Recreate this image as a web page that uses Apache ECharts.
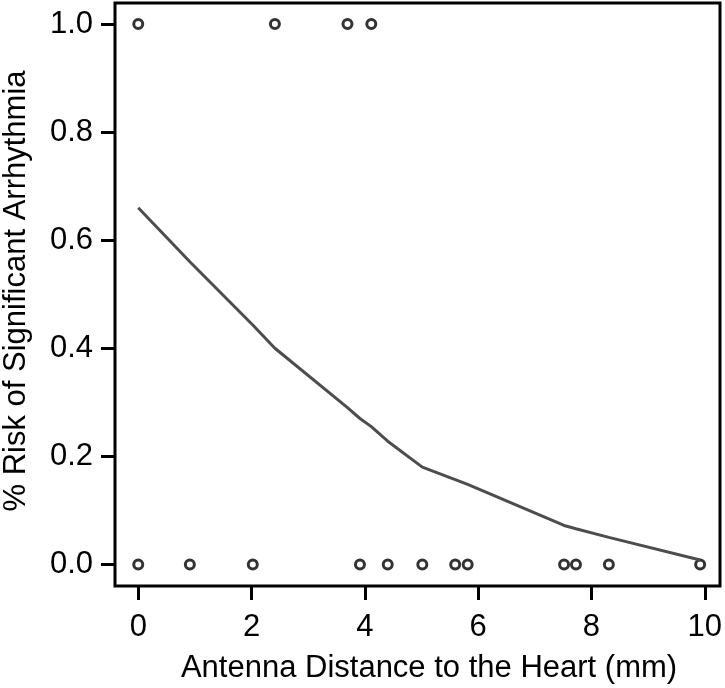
<!DOCTYPE html>
<html>
<head>
<meta charset="utf-8">
<script src="https://cdn.jsdelivr.net/npm/echarts@6/dist/echarts.min.js"></script>
<style>html,body{margin:0;padding:0;background:#fff}#c{width:725px;height:688px}</style>
</head>
<body>
<div id="c"></div>
<script>
var xTickMin = 0, xTickMax = 10, xTickStep = 2;
var yTickMin = 0, yTickMax = 1, yTickStep = 0.2;
var xTitle = 'Antenna Distance to the Heart (mm)';
var yTitle = '% Risk of Significant Arrhythmia';
var zeroX = [0, 0.91, 2.02, 3.91, 4.40, 5.01, 5.59, 5.81, 7.51, 7.72, 8.30, 9.91];
var oneX = [0, 2.41, 3.69, 4.11];
var curveX = [0, 0.91, 2.02, 2.41, 3.69, 3.91, 4.11, 4.40, 5.01, 5.59, 5.81, 7.51, 7.72, 8.30, 9.91];
var curveY = [0.66, 0.56, 0.443, 0.40, 0.29, 0.27, 0.255, 0.228, 0.18, 0.157, 0.148, 0.072, 0.066, 0.05, 0.008];

var pts = zeroX.map(function (x) { return [x, 0]; }).concat(oneX.map(function (x) { return [x, 1]; }));
var curve = curveX.map(function (x, i) { return [x, curveY[i]]; });

// layout of the plot box
var W = 725, H = 688;
var G = { left: 115, right: 5, top: 3, bottom: 102 };
var xMin = -0.41, xMax = 10.26, yMin = -0.040, yMax = 1.039;
var pw = W - G.left - G.right, ph = H - G.top - G.bottom;
function px(v) { return G.left + (v - xMin) / (xMax - xMin) * pw; }
function py(v) { return G.top + (yMax - v) / (yMax - yMin) * ph; }

var font = 'Liberation Sans, Arial, Helvetica, sans-serif';
var chart = echarts.init(document.getElementById('c'));
chart.setOption({
  animation: false,
  grid: [
    { left: G.left, right: G.right, top: G.top, bottom: G.bottom, show: true, borderColor: '#000', borderWidth: 3 },
    { left: px(xTickMin), right: W - px(xTickMax), top: G.top, bottom: G.bottom, show: false },
    { left: G.left, right: G.right, top: py(yTickMax), bottom: H - py(yTickMin), show: false }
  ],
  xAxis: [
    { gridIndex: 0, type: 'value', min: xMin, max: xMax, show: false },
    { gridIndex: 1, type: 'value', min: xTickMin, max: xTickMax, interval: xTickStep,
      splitLine: { show: false }, axisLine: { show: false },
      axisTick: { show: true, length: 14, lineStyle: { color: '#000', width: 3 } },
      axisLabel: { color: '#000', fontSize: 31, fontFamily: font, margin: 26 } },
    { gridIndex: 2, type: 'value', min: 0, max: 1, show: false }
  ],
  yAxis: [
    { gridIndex: 0, type: 'value', min: yMin, max: yMax, show: false },
    { gridIndex: 1, type: 'value', min: 0, max: 1, show: false },
    { gridIndex: 2, type: 'value', min: yTickMin, max: yTickMax, interval: yTickStep,
      splitLine: { show: false }, axisLine: { show: false },
      axisTick: { show: true, length: 14, lineStyle: { color: '#000', width: 3 } },
      axisLabel: { color: '#000', fontSize: 31, fontFamily: font, margin: 22,
        formatter: function (v) { return v.toFixed(1); } } }
  ],
  graphic: [
    { type: 'text', x: 429, y: 668, silent: true,
      style: { text: xTitle, fill: '#000', font: '31px ' + font, align: 'center', verticalAlign: 'middle' } },
    { type: 'text', x: 16, y: 291, rotation: Math.PI / 2, silent: true,
      style: { text: yTitle, fill: '#000', font: '31px ' + font, align: 'center', verticalAlign: 'middle' } }
  ],
  series: [
    { type: 'line', xAxisIndex: 0, yAxisIndex: 0, data: curve, showSymbol: false, symbol: 'none',
      lineStyle: { color: '#4d4d4d', width: 3 } },
    { type: 'scatter', xAxisIndex: 0, yAxisIndex: 0, data: pts, symbol: 'circle', symbolSize: 9,
      itemStyle: { color: '#ffffff', borderColor: '#000000', borderWidth: 3 } }
  ]
});
</script>
</body>
</html>
